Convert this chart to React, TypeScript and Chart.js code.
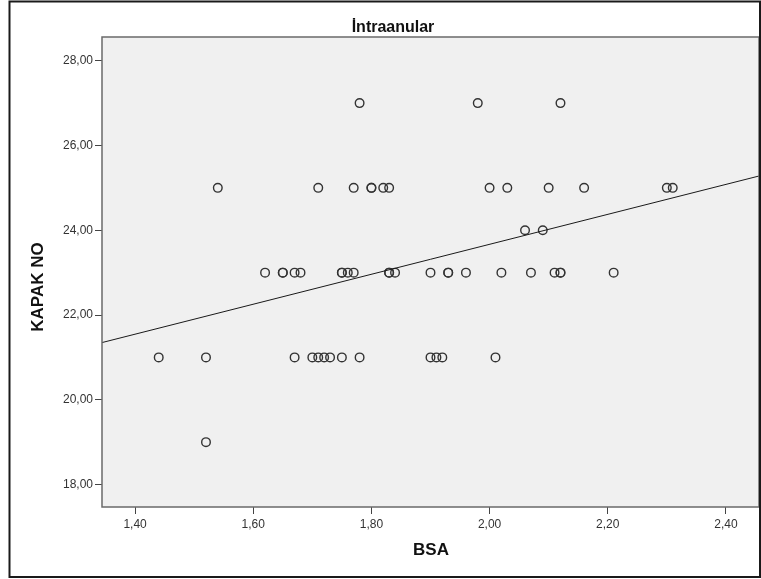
import React, { useEffect, useRef } from "react";
import { Chart, registerables } from "chart.js";

Chart.register(...registerables);

// ---- data ----
const bsa = [
  1.78, 1.98, 2.12,
  1.54, 1.71, 1.77, 1.80, 1.80, 1.82, 1.83, 2.00, 2.03, 2.10, 2.16, 2.30, 2.31,
  2.06, 2.09,
  1.62, 1.65, 1.65, 1.67, 1.68, 1.75, 1.75, 1.76, 1.77, 1.83, 1.83, 1.84, 1.90, 1.93, 1.93, 1.96, 2.02, 2.07, 2.11, 2.12, 2.12, 2.21,
  1.44, 1.52, 1.67, 1.70, 1.71, 1.72, 1.73, 1.75, 1.78, 1.90, 1.91, 1.92, 2.01,
  1.52,
];
const kapakNo = [
  27, 27, 27,
  25, 25, 25, 25, 25, 25, 25, 25, 25, 25, 25, 25, 25,
  24, 24,
  23, 23, 23, 23, 23, 23, 23, 23, 23, 23, 23, 23, 23, 23, 23, 23, 23, 23, 23, 23, 23, 23,
  21, 21, 21, 21, 21, 21, 21, 21, 21, 21, 21, 21, 21,
  19,
];
const xTicks = [1.4, 1.6, 1.8, 2.0, 2.2, 2.4];
const yTicks = [18, 20, 22, 24, 26, 28];
const xRange = [1.344, 2.456];
const yRange = [17.47, 28.56];
const regressionX = [1.344, 2.456];
const regressionY = [21.35, 25.28];
const chartTitle = "İntraanular";
const xTitle = "BSA";
const yTitle = "KAPAK NO";

const fmt = (v: number) => Number(v).toFixed(2).replace(".", ",");

const decorPlugin = {
  id: "decor",
  beforeDraw(chart: any) {
    const { ctx, chartArea: a } = chart;
    ctx.save();
    ctx.fillStyle = "#ffffff";
    ctx.fillRect(0, 0, chart.width, chart.height);
    ctx.fillStyle = "#f0f0f0";
    ctx.fillRect(a.left, a.top, a.right - a.left, a.bottom - a.top);
    ctx.restore();
  },
  afterDraw(chart: any) {
    const { ctx, chartArea: a } = chart;
    ctx.save();
    // plot frame
    ctx.strokeStyle = "#6a6a6a";
    ctx.lineWidth = 1.5;
    ctx.strokeRect(a.left, a.top, a.right - a.left, a.bottom - a.top);
    // outer frame
    ctx.strokeStyle = "#1a1a1a";
    ctx.lineWidth = 2;
    ctx.strokeRect(9.5, 1.5, 750.5, 575.5);
    // title
    ctx.fillStyle = "#111";
    ctx.font = "bold 16px 'Liberation Sans', Arial, sans-serif";
    ctx.textAlign = "center";
    ctx.textBaseline = "alphabetic";
    ctx.fillText(chartTitle, 393, 32);
    // x title
    ctx.font = "bold 17px 'Liberation Sans', Arial, sans-serif";
    ctx.textBaseline = "middle";
    ctx.fillText(xTitle, 431, 550);
    // y title
    ctx.translate(38, 287);
    ctx.rotate(-Math.PI / 2);
    ctx.fillText(yTitle, 0, 0);
    ctx.restore();
  },
};

export default function App() {
  const ref = useRef<HTMLCanvasElement | null>(null);
  useEffect(() => {
    if (!ref.current) return;
    const points = bsa.map((x, i) => ({ x, y: kapakNo[i] }));
    const line = regressionX.map((x, i) => ({ x, y: regressionY[i] }));
    const tickFont = { family: "'Liberation Sans', Arial, sans-serif", size: 12 };
    const chart = new Chart(ref.current, {
      type: "scatter",
      data: {
        datasets: [
          {
            type: "line",
            data: line,
            borderColor: "#1a1a1a",
            borderWidth: 1,
            pointRadius: 0,
            fill: false,
          } as any,
          {
            data: points,
            pointStyle: "circle",
            pointRadius: 4.3,
            pointBorderWidth: 1.4,
            borderColor: "#333333",
            backgroundColor: "rgba(0,0,0,0)",
          } as any,
        ],
      },
      options: {
        animation: false,
        responsive: false,
        devicePixelRatio: 1,
        layout: { autoPadding: false, padding: { left: 0, right: 2, top: 37, bottom: 0 } },
        plugins: { legend: { display: false }, title: { display: false }, tooltip: { enabled: false } },
        scales: {
          x: {
            type: "linear",
            min: xRange[0],
            max: xRange[1],
            afterBuildTicks: (s: any) => {
              s.ticks = xTicks.map((v) => ({ value: v }));
            },
            afterFit: (s: any) => {
              s.height = 72;
              s.paddingLeft = 0;
              s.paddingRight = 0;
            },
            ticks: { callback: (v: any) => fmt(v), color: "#333", font: tickFont, padding: 3, maxRotation: 0, autoSkip: false },
            grid: { display: true, drawOnChartArea: false, drawTicks: true, tickLength: 7, color: "#444", lineWidth: 1 },
            border: { display: false },
          },
          y: {
            type: "linear",
            min: yRange[0],
            max: yRange[1],
            afterBuildTicks: (s: any) => {
              s.ticks = yTicks.map((v) => ({ value: v }));
            },
            afterFit: (s: any) => {
              s.width = 102;
              s.paddingTop = 0;
              s.paddingBottom = 0;
            },
            ticks: { callback: (v: any) => fmt(v), color: "#333", font: tickFont, padding: 2, autoSkip: false },
            grid: { display: true, drawOnChartArea: false, drawTicks: true, tickLength: 7, color: "#444", lineWidth: 1 },
            border: { display: false },
          },
        },
      } as any,
      plugins: [decorPlugin],
    });
    return () => chart.destroy();
  }, []);
  return (
    <canvas
      ref={ref}
      width={761}
      height={579}
      style={{ position: "absolute", left: 0, top: 0, width: 761, height: 579 }}
    />
  );
}
